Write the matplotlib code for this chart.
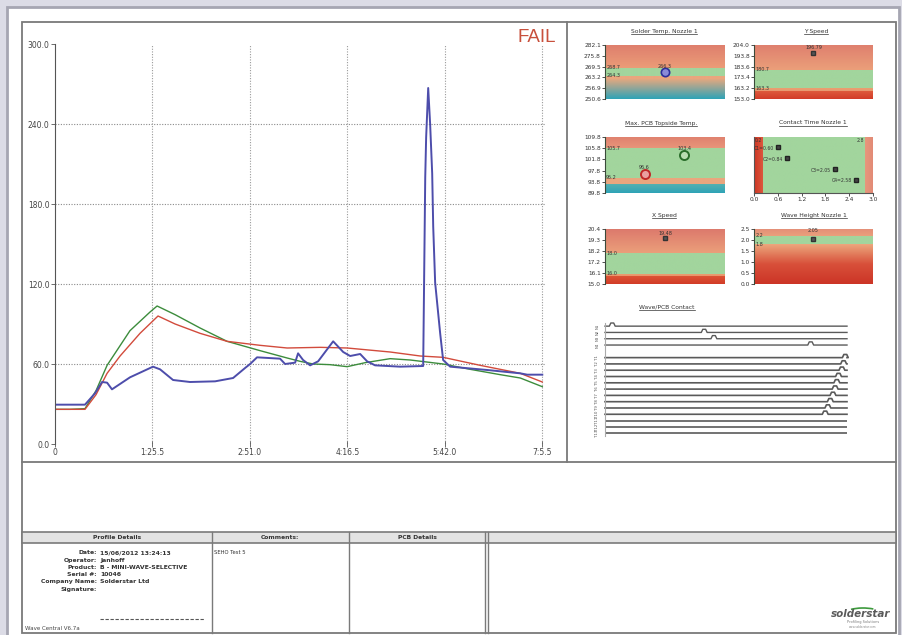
import numpy as np
import matplotlib
matplotlib.use("Agg")
import matplotlib.pyplot as plt
from matplotlib.colors import LinearSegmentedColormap
from matplotlib.patches import Rectangle, Arc

# ---- profile data (time in seconds, temperature in degC) ----
green_t = [0, 13.2, 26.3, 36.0, 45.7, 65.8, 83.4, 89.6, 105.4, 127.3, 151.0, 180.0,
           203.7, 215.1, 226.5, 241.4, 256.4, 272.2, 294.1, 311.7, 340.6, 364.4,
           390.7, 408.3, 427.6]
green_v = [26, 26, 26.5, 40, 59, 85, 99, 103.5, 97, 87, 77, 70,
           64.5, 62, 60, 59.5, 58, 61, 64, 63, 60, 56,
           52, 49.5, 43]

red_t = [0, 26.3, 36.0, 45.7, 57.1, 74.6, 90.4, 105.4, 127.3, 151.0, 180.0,
         203.7, 232.7, 256.4, 294.1, 320.5, 340.6, 373.1, 408.3, 427.6]
red_v = [26, 26, 37, 53, 66, 83, 96, 90, 83, 77, 74,
         72, 72.5, 72, 69, 66, 65, 59, 53, 46.5]

blue_t = [0, 26.3, 35.1, 41.3, 45.7, 50.0, 65.8, 86.0, 92.2, 103.6, 118.5, 140.5,
          156.3, 166.8, 171.2, 177.3, 197.5, 201.9, 210.7, 213.3, 217.7, 223.9,
          230.9, 244.1, 252.9, 259.0, 267.8, 273.9, 280.9, 302.9, 323.1, 324.9,
          325.7, 327.5, 329.2, 331.0, 331.9, 333.6, 338.0, 340.6, 346.8, 379.3,
          408.3, 414.4, 427.6]
blue_v = [29.5, 29.5, 38, 46.5, 46, 41, 50, 58, 56, 48, 46.5, 47,
          49.5, 57, 60, 65, 64, 60, 61, 68, 63, 59,
          62, 77, 69, 66, 67.5, 62, 59, 58, 58.5, 200,
          230, 267, 240, 203, 163, 121, 83, 63, 58, 55.5,
          53, 52, 52]

x_ticks = [0, 85.5, 171.0, 256.5, 342.0, 427.5]
x_labels = ["0", "1:25.5", "2:51.0", "4:16.5", "5:42.0", "7:5.5"]
y_ticks = [0, 60, 120, 180, 240, 300]

# ---- small gauge panels ----
solder_ticks = [250.6, 256.9, 263.2, 269.5, 275.8, 282.1]
solder_limits = [264.3, 268.7]
solder_value = 266.3

yspeed_ticks = [153.0, 163.2, 173.4, 183.6, 193.8, 204.0]
yspeed_limits = [163.3, 180.7]
yspeed_value = 196.79

pcb_ticks = [89.8, 93.8, 97.8, 101.8, 105.8, 109.8]
pcb_limits = [95.2, 105.7]
pcb_values = [96.6, 103.4]

contact_ticks = [0.0, 0.6, 1.2, 1.8, 2.4, 3.0]
contact_limits = [0.2, 2.8]
contact_names = ["C1", "C2", "C3", "C4"]
contact_values = [0.60, 0.84, 2.05, 2.58]

xspeed_ticks = [15.0, 16.08, 17.16, 18.24, 19.32, 20.4]
xspeed_limits = [16.0, 18.0]
xspeed_value = 19.48

wave_ticks = [0.0, 0.5, 1.0, 1.5, 2.0, 2.5]
wave_limits = [1.8, 2.2]
wave_value = 2.05

# wave/pcb contact channels: (row index, bump position in % of run or None)
contact_rows = [0, 1, 2, 3, 5, 6, 7, 8, 9, 10, 11, 12, 13, 14, 15, 16, 17]
contact_bumps = [3.0, 41.0, 45.0, 85.0, 99.3, 98.6, 97.9, 96.5, 95.8, 95.1,
                 94.2, 93.1, 92.1, 91.0, None, None, None]
contact_row_labels = ["N1", "N2", "N3", "N4", "T1", "T2", "T3", "T4", "T5", "T6",
                      "T7", "T8", "T9", "T10", "T11", "T12", "T13"]

W, H = 903, 635
GREEN = "#a2d59d"
fig = plt.figure(figsize=(W / 100, H / 100), dpi=100)
fig.patch.set_facecolor("#dcdce6")


def px_axes(x0, y0, x1, y1):
    return fig.add_axes([x0 / W, 1 - y1 / H, (x1 - x0) / W, (y1 - y0) / H])


def gradient(ax, x0, x1, y0, y1, colors, horizontal=False):
    cmap = LinearSegmentedColormap.from_list("g", colors)
    grad = np.linspace(0, 1, 64)
    img = grad.reshape(1, -1) if horizontal else grad.reshape(-1, 1)
    ax.imshow(img, extent=(x0, x1, y0, y1), origin="lower", cmap=cmap,
              aspect="auto", interpolation="bilinear", zorder=0)


def style_gauge(ax, ticks, fmt="{:.1f}"):
    ax.set_yticks(ticks)
    ax.set_yticklabels([fmt.format(t) for t in ticks])
    ax.set_xticks([])
    ax.tick_params(axis="y", length=2, width=0.6, pad=1, labelsize=4.2,
                   colors="#333")
    for s in ["top", "right", "bottom"]:
        ax.spines[s].set_visible(False)
    ax.spines["left"].set_color("#3a4a3a")
    ax.spines["left"].set_linewidth(0.8)


# ---- page and frames ----
page = px_axes(0, 0, W, H)
page.set_xlim(0, W)
page.set_ylim(H, 0)
page.axis("off")
page.add_patch(Rectangle((7, 7), 892, 640, fc="white", ec="#a6a6b2", lw=2))
page.add_patch(Rectangle((22, 22), 874, 611, fc="none", ec="#7a7a7a", lw=1.3))
page.plot([567, 567], [22, 462], color="#7a7a7a", lw=1.3)
page.plot([22, 896], [462, 462], color="#7a7a7a", lw=1.3)

# table
page.add_patch(Rectangle((22, 532), 874, 11, fc="#e3e3e3", ec="#7a7a7a", lw=1.2))
for cx in [212, 349, 485, 488]:
    page.plot([cx, cx], [532, 633], color="#7a7a7a", lw=1.0)
page.text(117, 537.5, "Profile Details", ha="center", va="center",
          fontsize=4.3, weight="bold", color="#333")
page.text(280, 537.5, "Comments:", ha="center", va="center",
          fontsize=4.3, weight="bold", color="#333")
page.text(417, 537.5, "PCB Details", ha="center", va="center",
          fontsize=4.3, weight="bold", color="#333")

detail_keys = ["Date:", "Operator:", "Product:", "Serial #:", "Company Name:", "Signature:"]
detail_vals = ["15/06/2012 13:24:13", "Janhoff", "B - MINI-WAVE-SELECTIVE",
               "10046", "Solderstar Ltd", ""]
for i, (k, v) in enumerate(zip(detail_keys, detail_vals)):
    yy = 553 + i * 7.2
    page.text(97, yy, k, ha="right", va="center", fontsize=4.4, weight="bold", color="#333")
    page.text(100, yy, v, ha="left", va="center", fontsize=4.4, weight="bold", color="#333")
page.plot([100, 205], [619, 619], color="#555", lw=0.8, ls=(0, (3, 1.5)))
page.text(25, 629, "Wave Central V6.7a", ha="left", va="center", fontsize=4, color="#444")
page.text(214, 552, "SEHO Test 5", ha="left", va="center", fontsize=3.8, color="#333")

# logo
page.text(861, 614, "solderstar", ha="center", va="center", fontsize=7.5,
          style="italic", weight="bold", color="#5a5a5a")
page.add_patch(Arc((863, 615), 40, 14, theta1=205, theta2=330, color="#3d9a3d", lw=1.2))
page.text(863, 622, "Profiling Solutions", ha="center", va="center", fontsize=2.5, color="#777")
page.text(863, 627, "www.solderstar.com", ha="center", va="center", fontsize=2, color="#888")

page.text(537, 38, "FAIL", ha="center", va="center", fontsize=13.5,
          color="#c8503c", family="Liberation Sans")

# ---- main profile chart ----
ax = px_axes(55, 44, 545, 444)
ax.set_facecolor("none")
ax.set_xlim(0, 430)
ax.set_ylim(0, 300)
for v in y_ticks[1:-1]:
    ax.axhline(v, color="#8a8a8a", lw=0.8, ls=(0, (1, 1.4)), zorder=0)
for v in x_ticks[1:]:
    ax.axvline(v, color="#9a9a9a", lw=0.8, ls=(0, (1, 1.4)), zorder=0)
ax.plot(green_t, green_v, color="#3c8c3c", lw=1.0)
ax.plot(red_t, red_v, color="#d24b3c", lw=1.0)
ax.plot(blue_t, blue_v, color="#4d4dab", lw=1.4)
ax.set_xticks(x_ticks)
ax.set_xticklabels(x_labels)
ax.set_yticks(y_ticks)
ax.set_yticklabels(["{:.1f}".format(v) for v in y_ticks])
ax.tick_params(axis="y", length=3, width=0.6, color="#555", labelsize=5.5,
               labelcolor="#444", pad=1)
ax.tick_params(axis="x", direction="inout", length=4, width=0.6, color="#555",
               labelsize=5.5, labelcolor="#444", pad=1)
for s in ["top", "right", "bottom"]:
    ax.spines[s].set_visible(False)
ax.spines["left"].set_color("#555")
ax.spines["left"].set_linewidth(0.8)

titles = []


def add_title(text, x, y):
    t = page.text(x, y, text, ha="center", va="center", fontsize=4.3, color="#333")
    titles.append(t)


# Solder temp
a1 = px_axes(605, 45, 725, 99)
gradient(a1, 0, 1, solder_ticks[0], 262.0, ["#2ea3b7", "#e2a880"])
gradient(a1, 0, 1, 262.0, solder_limits[0], ["#eaa67e", "#eaa67e"])
gradient(a1, 0, 1, solder_limits[0], solder_limits[1], [GREEN, GREEN])
gradient(a1, 0, 1, solder_limits[1], solder_ticks[-1], ["#eb9c78", "#df7f6d"])
a1.set_xlim(0, 1)
a1.set_ylim(solder_ticks[0], solder_ticks[-1])
style_gauge(a1, solder_ticks)
a1.plot([0.5], [solder_value], "o", ms=6, mfc="#8a8ad8", mec="#2e2e9a", mew=1.2)
a1.text(0.5, solder_value + 2.6, "{:.1f}".format(solder_value), ha="center", fontsize=3.5, color="#333")
for lim in solder_limits:
    a1.text(0.01, lim, "{:.1f}".format(lim), ha="left", va="center", fontsize=3.5, color="#333")
add_title("Solder Temp. Nozzle 1", 664, 31)

# Y speed
a2 = px_axes(754, 45, 873, 99)
gradient(a2, 0, 1, yspeed_ticks[0], 160.5, ["#d23c28", "#de5a3c"])
gradient(a2, 0, 1, 160.5, yspeed_limits[0], ["#e89870", "#eaa070"])
gradient(a2, 0, 1, yspeed_limits[0], yspeed_limits[1], [GREEN, GREEN])
gradient(a2, 0, 1, yspeed_limits[1], yspeed_ticks[-1], ["#eb9f7a", "#df806e"])
a2.set_xlim(0, 1)
a2.set_ylim(yspeed_ticks[0], yspeed_ticks[-1])
style_gauge(a2, yspeed_ticks)
a2.plot([0.5], [yspeed_value], "s", ms=3, mfc="#555", mec="#333")
a2.text(0.5, yspeed_value + 3.0, "{:.2f}".format(yspeed_value), ha="center", fontsize=3.5, color="#333")
for lim in yspeed_limits:
    a2.text(0.01, lim, "{:.1f}".format(lim), ha="left", va="center", fontsize=3.5, color="#333")
add_title("Y Speed", 816, 31)

# Max PCB topside temp
a3 = px_axes(605, 137, 725, 193)
gradient(a3, 0, 1, pcb_ticks[0], 93.1, ["#2ea3b7", "#58b2b0"])
gradient(a3, 0, 1, 93.1, pcb_limits[0], ["#eaa67e", "#eaa67e"])
gradient(a3, 0, 1, pcb_limits[0], pcb_limits[1], [GREEN, GREEN])
gradient(a3, 0, 1, pcb_limits[1], pcb_ticks[-1], ["#e8957a", "#df806e"])
a3.set_xlim(0, 1)
a3.set_ylim(pcb_ticks[0], pcb_ticks[-1])
style_gauge(a3, pcb_ticks)
a3.plot([0.33], [pcb_values[0]], "o", ms=6.5, mfc="#eaa0a0", mec="#c02828", mew=1.4)
a3.plot([0.66], [pcb_values[1]], "o", ms=6.5, mfc="#b8ddb0", mec="#2a6e2a", mew=1.4)
a3.text(0.33, pcb_values[0] + 1.6, "{:.1f}".format(pcb_values[0]), ha="center", fontsize=3.5, color="#333")
a3.text(0.66, pcb_values[1] + 1.6, "{:.1f}".format(pcb_values[1]), ha="center", fontsize=3.5, color="#333")
for lim in pcb_limits:
    a3.text(0.01, lim, "{:.1f}".format(lim), ha="left", va="center", fontsize=3.5, color="#333")
add_title("Max. PCB Topside Temp.", 661, 123)

# Contact time
a4 = px_axes(754, 137, 873, 193)
gradient(a4, 0, contact_limits[0] + 0.03, 0, 1, ["#cc3624", "#de5a40"], horizontal=True)
gradient(a4, contact_limits[0] + 0.03, contact_limits[1], 0, 1, [GREEN, GREEN], horizontal=True)
gradient(a4, contact_limits[1], 3.0, 0, 1, ["#e8977c", "#e28a76"], horizontal=True)
a4.set_xlim(contact_ticks[0], contact_ticks[-1])
a4.set_ylim(0, 1)
a4.set_yticks([])
a4.set_xticks(contact_ticks)
a4.set_xticklabels(["{:.1f}".format(t) for t in contact_ticks])
a4.tick_params(axis="x", length=2, width=0.6, pad=1, labelsize=4.2, colors="#333")
for s in ["top", "right"]:
    a4.spines[s].set_visible(False)
a4.spines["left"].set_color("#555")
a4.spines["bottom"].set_color("#555")
for i, (nm, v) in enumerate(zip(contact_names, contact_values)):
    yy = 0.82 - i * 0.195
    a4.plot([v], [yy], "s", ms=2.8, mfc="#444", mec="#222")
    a4.text(v - 0.1, yy - 0.02, "{}={:.2f}".format(nm, v), ha="right", va="center",
            fontsize=3.3, color="#333")
a4.text(0.02, 0.93, "{:.1f}".format(contact_limits[0]), ha="left", va="center", fontsize=3.3, color="#333")
a4.text(2.77, 0.93, "{:.1f}".format(contact_limits[1]), ha="right", va="center", fontsize=3.3, color="#333")
add_title("Contact Time Nozzle 1", 813, 123)

# X speed
a5 = px_axes(605, 229, 725, 284)
gradient(a5, 0, 1, xspeed_ticks[0], 15.75, ["#d23c28", "#dc5434"])
gradient(a5, 0, 1, 15.75, xspeed_limits[0], ["#e8956c", "#eaa070"])
gradient(a5, 0, 1, xspeed_limits[0], xspeed_limits[1], [GREEN, GREEN])
gradient(a5, 0, 1, xspeed_limits[1], xspeed_ticks[-1], ["#eb9f7a", "#dc786c"])
a5.set_xlim(0, 1)
a5.set_ylim(xspeed_ticks[0], xspeed_ticks[-1])
style_gauge(a5, xspeed_ticks)
a5.plot([0.5], [xspeed_value], "s", ms=3, mfc="#555", mec="#333")
a5.text(0.5, xspeed_value + 0.3, "{:.2f}".format(xspeed_value), ha="center", fontsize=3.5, color="#333")
for lim in xspeed_limits:
    a5.text(0.01, lim, "{:.1f}".format(lim), ha="left", va="center", fontsize=3.5, color="#333")
add_title("X Speed", 664, 215)

# Wave height
a6 = px_axes(754, 229, 873, 284)
gradient(a6, 0, 1, wave_ticks[0], wave_limits[0], ["#cc3526", "#d8503a", "#eca67c"])
gradient(a6, 0, 1, wave_limits[0], wave_limits[1], [GREEN, GREEN])
gradient(a6, 0, 1, wave_limits[1], wave_ticks[-1], ["#e9a07c", "#e48f78"])
a6.set_xlim(0, 1)
a6.set_ylim(wave_ticks[0], wave_ticks[-1])
style_gauge(a6, wave_ticks)
a6.plot([0.5], [wave_value], "s", ms=3, mfc="#555", mec="#333")
a6.text(0.5, wave_value + 0.33, "{:.2f}".format(wave_value), ha="center", fontsize=3.5, color="#333")
for lim in wave_limits:
    a6.text(0.01, lim, "{:.1f}".format(lim), ha="left", va="center", fontsize=3.5, color="#333")
add_title("Wave Height Nozzle 1", 814, 215)

# Wave / PCB contact
a7 = px_axes(605, 323, 847, 436)
a7.set_facecolor("none")
a7.set_xlim(0, 100)
a7.set_ylim(17.45, -0.5)
for row, bump, lab in zip(contact_rows, contact_bumps, contact_row_labels):
    lw = 1.0 if row < 4 else 1.2
    if bump is None:
        a7.plot([0, 100], [row, row], color="#5a5a5a", lw=lw)
    else:
        xs = [0, bump - 1.2, bump - 0.6, bump + 0.6, bump + 1.2, 100]
        ys = [row, row, row - 0.5, row - 0.5, row, row]
        a7.plot(xs, ys, color="#5a5a5a", lw=lw, clip_on=False)
    a7.text(-3.2, row, lab, rotation=90, ha="center", va="center",
            fontsize=2.8, color="#555", clip_on=False)
a7.set_xticks([])
a7.set_yticks([])
for s in ["top", "right", "bottom"]:
    a7.spines[s].set_visible(False)
a7.spines["left"].set_color("#aaa")
add_title("Wave/PCB Contact", 667, 307)

# underline the panel titles
fig.canvas.draw()
inv = page.transData.inverted()
for t in titles:
    bb = t.get_window_extent()
    (x0, y0), (x1, y1) = inv.transform([(bb.x0, bb.y0), (bb.x1, bb.y1)])
    page.plot([x0, x1], [y0 + 0.3, y0 + 0.3], color="#333", lw=0.5)

fig.savefig("out.png", dpi=100, facecolor=fig.get_facecolor())
